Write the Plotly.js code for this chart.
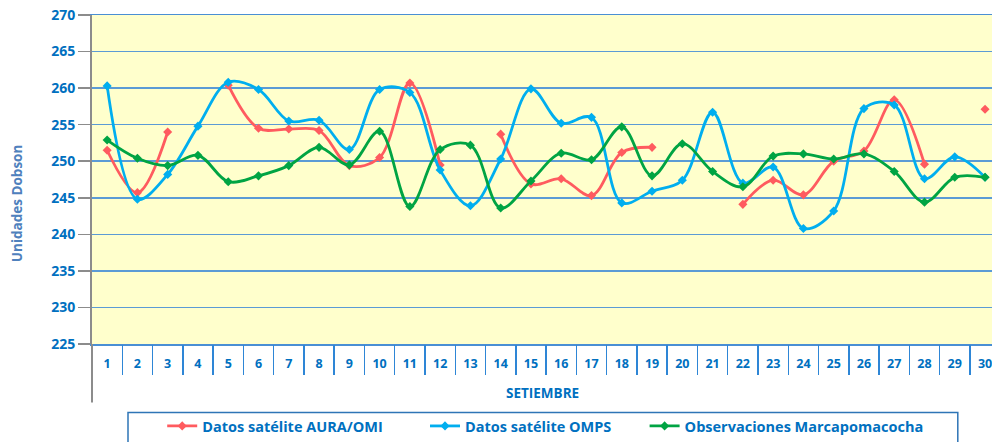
<!DOCTYPE html>
<html>
<head>
<meta charset="utf-8">
<script src="https://cdn.plot.ly/plotly-3.0.1.min.js"></script>
<style>
  html, body { margin: 0; padding: 0; background: #ffffff; overflow: hidden; }
  #chart { width: 992px; height: 442px; }
</style>
</head>
<body>
<div id="chart"></div>
<script>
const days = ['1','2','3','4','5','6','7','8','9','10','11','12','13','14','15','16','17','18','19','20','21','22','23','24','25','26','27','28','29','30'];
const auraOmi = [251.5, 245.7, 254.0, null, 260.4, 254.5, 254.4, 254.2, 249.4, 250.5, 260.7, 249.5, null, 253.7, 246.9, 247.6, 245.3, 251.2, 251.9, null, null, 244.1, 247.4, 245.4, 250.0, 251.4, 258.4, 249.6, null, 257.1];
const omps = [260.3, 244.8, 248.2, 254.8, 260.8, 259.8, 255.5, 255.6, 251.6, 259.8, 259.4, 248.8, 243.9, 250.3, 259.9, 255.2, 256.0, 244.3, 245.9, 247.4, 256.7, 247.0, 249.2, 240.8, 243.2, 257.2, 257.7, 247.6, 250.6, 247.8];
const marca = [252.9, 250.4, 249.4, 250.8, 247.2, 248.0, 249.4, 251.9, 249.5, 254.1, 243.8, 251.6, 252.2, 243.6, 247.3, 251.1, 250.2, 254.7, 248.0, 252.4, 248.6, 246.5, 250.7, 251.0, 250.3, 251.0, 248.6, 244.4, 247.8, 247.8];
const seriesNames = ['Datos satélite AURA/OMI', 'Datos satélite OMPS', 'Observaciones Marcapomacocha'];
const yTitle = 'Unidades Dobson';
const xTitle = 'SETIEMBRE';

const colors = ['#FF5B5F', '#00AEEF', '#00A443'];
const seriesData = [auraOmi, omps, marca];
const legendIds = ['legend', 'legend2', 'legend3'];
const legendX = [0.078, 0.37, 0.614];
const FONT = '"Open Sans", "DejaVu Sans", sans-serif';
const TXT = '#0070C0';

const traces = seriesData.map((vals, i) => ({
  type: 'scatter',
  mode: 'lines+markers',
  x: days,
  y: vals,
  name: seriesNames[i],
  legend: legendIds[i],
  connectgaps: false,
  line: { color: colors[i], width: 2.8, shape: 'spline', smoothing: 1 },
  marker: { color: colors[i], symbol: 'diamond', size: 7 },
  cliponaxis: false
}));

const layout = {
  width: 992,
  height: 442,
  margin: { l: 92, r: 0, t: 15, b: 96 },
  paper_bgcolor: '#ffffff',
  plot_bgcolor: '#FFFFCC',
  showlegend: true,
  font: { family: FONT, color: TXT },
  xaxis: {
    type: 'category',
    categoryorder: 'array',
    categoryarray: days,
    range: [-0.5, 29.23],
    showgrid: false,
    zeroline: false,
    showline: true,
    linecolor: '#4A8FD4',
    linewidth: 1.5,
    mirror: true,
    ticks: 'outside',
    ticklen: 7,
    tickcolor: 'rgba(0,0,0,0)',
    tickfont: { family: FONT, size: 12.5, color: TXT, weight: 'bold' },
    fixedrange: true
  },
  xaxis2: {
    type: 'category',
    categoryorder: 'array',
    categoryarray: days,
    overlaying: 'x',
    anchor: 'y',
    side: 'bottom',
    range: [-0.5, 29.23],
    showgrid: false,
    zeroline: false,
    showline: false,
    ticks: 'outside',
    tickson: 'boundaries',
    ticklen: 30,
    tickwidth: 1.5,
    tickcolor: '#2E86D6',
    showticklabels: false,
    fixedrange: true
  },
  yaxis: {
    range: [225, 270],
    dtick: 5,
    tick0: 225,
    showgrid: true,
    gridcolor: '#5B9BD5',
    gridwidth: 1.5,
    zeroline: false,
    showline: true,
    linecolor: '#8C8C8C',
    linewidth: 2,
    ticks: 'outside',
    ticklen: 12,
    tickwidth: 1.5,
    tickcolor: '#8C8C8C',
    tickfont: { family: FONT, size: 14, color: TXT, weight: 'bold' },
    fixedrange: true
  },
  annotations: [
    {
      text: yTitle,
      xref: 'paper', yref: 'paper',
      x: -0.083, y: 0.426,
      xanchor: 'center', yanchor: 'middle',
      textangle: -90,
      showarrow: false,
      font: { family: FONT, size: 13.5, color: '#4F81BD', weight: 'bold' }
    },
    {
      text: xTitle,
      xref: 'paper', yref: 'paper',
      x: 0.5, y: -0.148,
      xanchor: 'center', yanchor: 'middle',
      showarrow: false,
      font: { family: FONT, size: 13.5, color: TXT, weight: 'bold' }
    }
  ],
  shapes: [
    {
      type: 'line', xref: 'paper', yref: 'paper',
      x0: 0, x1: 0, y0: 0, y1: -0.178,
      line: { color: '#8C8C8C', width: 2 }
    },
    {
      type: 'rect', xref: 'paper', yref: 'paper',
      x0: 0.04, x1: 0.962, y0: -0.2085, y1: -0.32,
      line: { color: '#2E75B6', width: 1.5 },
      fillcolor: 'rgba(0,0,0,0)'
    }
  ]
};

legendIds.forEach((id, i) => {
  layout[id] = {
    orientation: 'h',
    x: legendX[i],
    xanchor: 'left',
    y: -0.251,
    yanchor: 'middle',
    bgcolor: 'rgba(0,0,0,0)',
    borderwidth: 0,
    font: { family: FONT, size: 14.5, color: TXT, weight: 'bold' },
    itemwidth: 30
  };
});

// invisible helper trace so the boundary-tick axis is drawn
traces.push({
  type: 'scatter', mode: 'markers', x: days, y: days.map(() => null),
  xaxis: 'x2', yaxis: 'y', showlegend: false, hoverinfo: 'skip',
  marker: { opacity: 0 }
});

Plotly.newPlot('chart', traces, layout, { displayModeBar: false, staticPlot: true });
</script>
</body>
</html>
